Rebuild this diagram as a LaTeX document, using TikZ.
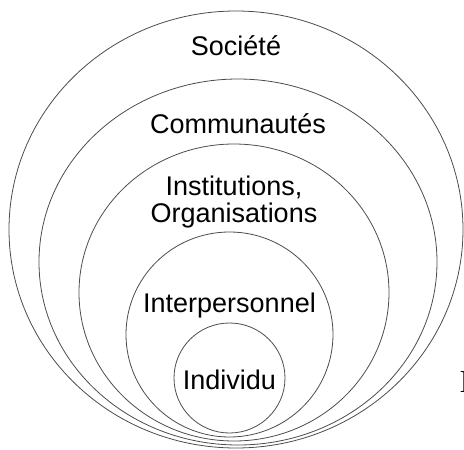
\documentclass[tikz,border=0pt]{standalone}
\usepackage{fontspec}
\setmainfont{Liberation Sans}
\newfontfamily\serifletter{Liberation Serif}
\usetikzlibrary{shapes.geometric}

\begin{document}
\begin{tikzpicture}[
    x=1pt, y=-1pt,
    ring/.style={ellipse, draw=black!70, line width=0.8pt, inner sep=0pt, outer sep=0pt},
    level_text/.style={font=\fontsize{27}{27}\selectfont, align=center, text=black, inner sep=0pt, anchor=base}
]
\useasboundingbox (0,0) rectangle (464,450);
\clip (0,0) rectangle (464,450);

% Rings, from the largest to the smallest
\node[ring, minimum width=454pt, minimum height=437pt] (societe_ring) at (236,229.5) {};
\node[ring, minimum width=398pt, minimum height=366pt] (communautes_ring) at (238,262) {};
\node[ring, minimum width=310pt, minimum height=297pt] (institutions_ring) at (234,292.5) {};
\node[ring, minimum width=207pt, minimum height=205pt] (interpersonnel_ring) at (229.5,334.5) {};
\node[ring, minimum width=111pt, minimum height=110pt] (individu_ring) at (229.5,378) {};

% Labels
\node[level_text] (societe) at (236,55) {Société};
\node[level_text] (communautes) at (238,133.5) {Communautés};
\node[level_text, anchor=north] (institutions) at (234,176) {Institutions,\\Organisations};
\node[level_text] (interpersonnel) at (229.5,312) {Interpersonnel};
\node[level_text] (individu) at (229.5,389) {Individu};

% Cut letter at the right edge
\node[font=\serifletter\fontsize{32}{32}\selectfont, inner sep=0pt, anchor=base west] (cut_letter) at (459.4,392) {I};

\end{tikzpicture}
\end{document}
